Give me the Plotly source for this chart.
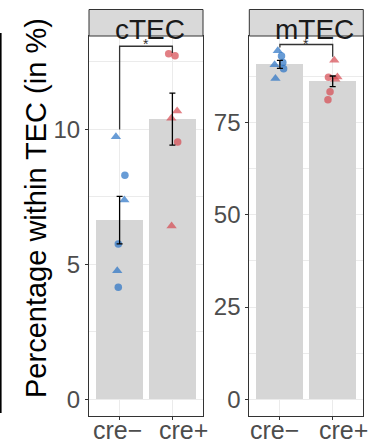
import plotly.graph_objects as go

W, H = 379, 445

# ---------------- data ----------------
groups = ["cre−", "cre+"]
panels = ["cTEC", "mTEC"]

# bar heights (means) and standard errors
ctec_means = [6.64, 10.38]
ctec_se = [0.88, 0.96]
mtec_means = [90.8, 86.2]
mtec_se = [1.1, 1.45]

# individual points (value, shape) per group
ctec_neg_vals = [9.73, 8.30, 7.38, 5.75, 4.76, 4.15]
ctec_neg_shape = ["triangle-up", "circle", "triangle-up", "circle", "triangle-up", "circle"]
ctec_neg_jit = [-0.07, 0.10, 0.09, -0.025, -0.045, -0.025]

ctec_pos_vals = [12.80, 12.73, 10.68, 10.41, 9.53, 6.42]
ctec_pos_shape = ["circle", "circle", "triangle-up", "triangle-up", "circle", "triangle-up"]
ctec_pos_jit = [-0.07, 0.05, 0.09, -0.02, 0.10, -0.015]

mtec_neg_vals = [94.5, 90.7, 87.0, 93.1, 91.3, 89.6]
mtec_neg_shape = ["triangle-up", "triangle-up", "triangle-up", "circle", "circle", "circle"]
mtec_neg_jit = [-0.04, -0.10, -0.085, 0.03, 0.055, 0.07]

mtec_pos_vals = [91.9, 87.4, 86.8, 87.3, 83.4, 81.2]
mtec_pos_shape = ["triangle-up", "triangle-up", "triangle-up", "circle", "circle", "circle"]
mtec_pos_jit = [0.03, 0.09, 0.05, -0.08, -0.05, -0.09]

ctec_ticks = [0, 5, 10]
mtec_ticks = [0, 25, 50, 75]

# significance brackets: (left leg bottom, top, right leg bottom)
ctec_bracket = (10.0, 13.08, 12.83)
mtec_bracket = (95.4, 96.2, 92.9)

# ---------------- style ----------------
BLUE = "#2872c4"
RED = "#d64850"
BAR = "#d6d6d6"
GRID = "#ebebeb"
FRAME = "#333333"
TICKTXT = "#4d4d4d"
FONT = "Liberation Sans, Arial, Helvetica, sans-serif"

def px(x):
    return x / W

def py(y):
    return 1 - y / H

ydom = [py(416), py(36)]
panel_px = [(89, 203), (249.3, 363.3)]
strip_shift = [4, 8.5]
xlabel_px = [(117.5, 183), (274.7, 343.3)]

fig = go.Figure()

def add_panel(i, means, se, neg, pos, ticks, dtick, rng, bracket):
    xa = "x" if i == 0 else "x2"
    ya = "y" if i == 0 else "y2"
    fig.add_trace(go.Bar(x=[1, 2], y=means, width=0.9, marker=dict(color=BAR, line=dict(width=0)),
                         xaxis=xa, yaxis=ya, showlegend=False, hoverinfo="skip"))
    for (vals, shapes, jit), col, gx in ((neg, BLUE, 1), (pos, RED, 2)):
        xs = [gx + j for j in jit]
        sizes = [9 if s == "triangle-up" else 7.5 for s in shapes]
        fig.add_trace(go.Scatter(x=xs, y=vals, mode="markers",
                                 marker=dict(color=col, symbol=shapes, size=sizes, line=dict(width=0)),
                                 xaxis=xa, yaxis=ya, showlegend=False))
    fig.add_trace(go.Scatter(x=[1, 2], y=means, mode="markers", marker=dict(size=0.1, color="rgba(0,0,0,0)"),
                             error_y=dict(type="data", array=se, color="black", thickness=1.3, width=3),
                             xaxis=xa, yaxis=ya, showlegend=False))
    lb, top, rb = bracket
    fig.add_trace(go.Scatter(x=[1, 1, 2, 2], y=[lb, top, top, rb], mode="lines",
                             line=dict(color=FRAME, width=1.3), xaxis=xa, yaxis=ya,
                             showlegend=False, cliponaxis=False))
    x0, x1 = panel_px[i]
    axis_common = dict(showline=True, mirror=True, linecolor=FRAME, linewidth=1,
                       ticks="outside", ticklen=3, tickcolor=FRAME, tickwidth=1,
                       tickfont=dict(family=FONT, size=24, color=TICKTXT),
                       gridcolor=GRID, gridwidth=1, zeroline=False, automargin=False)
    xkey = "xaxis" if i == 0 else "xaxis2"
    ykey = "yaxis" if i == 0 else "yaxis2"
    fig.update_layout(**{
        xkey: dict(domain=[px(x0), px(x1)], range=[0.42, 2.58], tickvals=[1, 2], showticklabels=False,
                   anchor=ya, showgrid=True, **axis_common),
        ykey: dict(domain=ydom, range=rng, tickvals=ticks, anchor=xa, showgrid=True,
                   minor=dict(dtick=dtick / 2, tick0=0, showgrid=True, gridcolor=GRID, gridwidth=0.6, ticks=""),
                   **axis_common),
    })
    # x tick labels
    for lab, cx in zip(groups, xlabel_px[i]):
        fig.add_annotation(text=lab, xref="paper", yref="paper", x=px(cx), y=py(429.5),
                           xanchor="center", yanchor="middle", showarrow=False,
                           font=dict(family=FONT, size=25, color=TICKTXT))
    # strip
    fig.add_shape(type="rect", xref="paper", yref="paper", x0=px(x0), x1=px(x1), y0=py(36), y1=py(9.5),
                  fillcolor="#d9d9d9", line=dict(color=FRAME, width=1), layer="above")
    fig.add_annotation(text=panels[i], xref="paper", yref="paper", x=px((x0 + x1) / 2 + strip_shift[i]),
                       y=py(29.5), xanchor="center", yanchor="middle", showarrow=False,
                       font=dict(family=FONT, size=28, color="#1a1a1a"))
    # significance star
    fig.add_annotation(text="*", xref=xa, yref="paper", x=1.5, y=py(44.5), xanchor="center", yanchor="middle",
                       showarrow=False, font=dict(family=FONT, size=14, color=FRAME))

add_panel(0, ctec_means, ctec_se, (ctec_neg_vals, ctec_neg_shape, ctec_neg_jit),
          (ctec_pos_vals, ctec_pos_shape, ctec_pos_jit), ctec_ticks, 5, [-0.62, 13.46], ctec_bracket)
add_panel(1, mtec_means, mtec_se, (mtec_neg_vals, mtec_neg_shape, mtec_neg_jit),
          (mtec_pos_vals, mtec_pos_shape, mtec_pos_jit), mtec_ticks, 25, [-4.53, 98.5], mtec_bracket)

# y-axis title
fig.add_annotation(text="Percentage within TEC (in %)", xref="paper", yref="paper", x=px(36), y=py(208),
                   textangle=-90, xanchor="center", yanchor="middle", showarrow=False,
                   font=dict(family=FONT, size=29, color="black"))

# left edge line
fig.add_shape(type="line", xref="paper", yref="paper", x0=px(0.8), x1=px(0.8), y0=py(33), y1=py(413),
              line=dict(color="black", width=1.6))

fig.update_layout(width=W, height=H, margin=dict(l=0, r=0, t=0, b=0),
                  paper_bgcolor="white", plot_bgcolor="white", bargap=0, showlegend=False)

fig.write_html("out.html")
